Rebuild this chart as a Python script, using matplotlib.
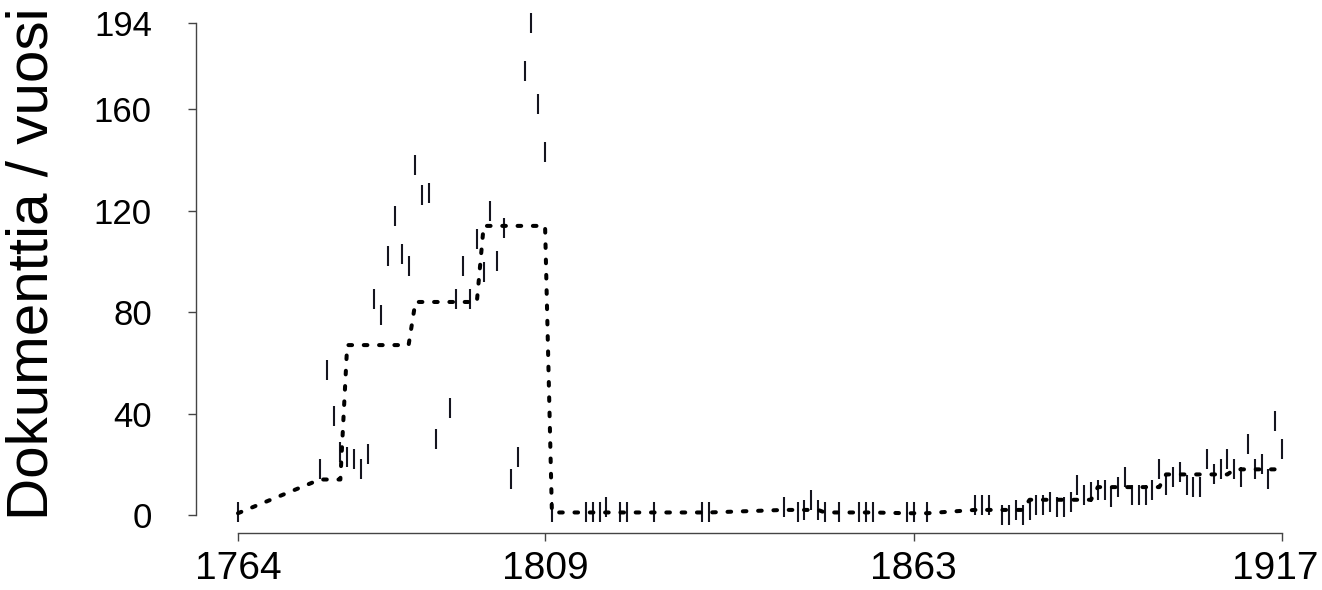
import matplotlib
matplotlib.use("Agg")
import matplotlib.pyplot as plt
import matplotlib.transforms as mtransforms

plt.rcParams['font.family'] = ['Liberation Sans', 'DejaVu Sans']

# documents per year (years without documents are left out)
years = [1764, 1776, 1777, 1778, 1779, 1780, 1781, 1782, 1783, 1784, 1785,
         1786, 1787, 1788, 1789, 1790, 1791, 1792, 1793, 1795, 1796, 1797,
         1798, 1799, 1800, 1801, 1802, 1803, 1804, 1805, 1806, 1807, 1808,
         1809, 1810, 1815, 1816, 1817, 1818, 1820, 1821, 1825, 1832, 1833,
         1844, 1846, 1847, 1848, 1849, 1850, 1852, 1855, 1856, 1857, 1862,
         1863, 1865, 1872, 1873, 1874, 1876, 1877, 1878, 1879, 1880, 1881,
         1882, 1883, 1884, 1885, 1886, 1887, 1888, 1889, 1890, 1891, 1892,
         1893, 1894, 1895, 1896, 1897, 1898, 1899, 1900, 1901, 1902, 1903,
         1904, 1905, 1906, 1907, 1908, 1909, 1910, 1911, 1912, 1913, 1914,
         1915, 1916, 1917]
docs = [1, 18, 57, 39, 25, 23, 22, 18, 24, 85, 79,
        102, 118, 103, 98, 138, 126, 127, 30, 42, 85, 98,
        85, 109, 96, 120, 100, 113, 14, 23, 175, 194, 162,
        143, 1, 1, 1, 1, 3, 1, 1, 1, 1, 1,
        3, 1, 2, 6, 2, 1, 1, 1, 1, 1, 1,
        1, 1, 4, 4, 4, 0, 0, 2, 0, 2, 4,
        4, 5, 3, 3, 5, 12, 8, 9, 10, 10, 7,
        11, 15, 8, 8, 8, 10, 18, 12, 15, 17, 12,
        11, 11, 22, 16, 18, 22, 18, 15, 28, 18, 20,
        14, 37, 26]

# mean per decade (dotted line), decades 1760s ... 1910s
decades = [1760, 1770, 1780, 1790, 1800, 1810, 1820, 1830,
           1840, 1850, 1860, 1870, 1880, 1890, 1900, 1910]
decade_mean = [0.7, 14, 67, 84, 114, 1, 1, 1,
               2, 1, 0.7, 2, 6, 11, 16, 18]

xticks = [1764, 1809, 1863, 1917]
yticks = [0, 40, 80, 120, 160, 194]

mean_of = dict(zip(decades, decade_mean))
trend = [mean_of[y - y % 10] for y in years]

fig = plt.figure(figsize=(13.22, 5.9), dpi=100)
W, H = 1322, 590
ax = fig.add_axes([196 / W, (H - 533) / H, (W - 196) / W, (533 - 3) / H])

ax.plot(years, docs, linestyle='none', marker='|', markersize=14.5,
        markeredgewidth=1.5, color='#15151f')
ax.plot(years, trend, color='black', linewidth=2.9,
        dashes=(0.9, 2.9), dash_capstyle='round')

ax.set_xlim(1764 - 42 / 6.824, 1764 + (W - 238) / 6.824)
ax.set_ylim((515 - 533) / 2.536, (515 - 3) / 2.536)

for s in ['top', 'right']:
    ax.spines[s].set_visible(False)
ax.spines['left'].set_bounds(0, 194)
ax.spines['bottom'].set_bounds(1764, 1917)
for s in ['left', 'bottom']:
    ax.spines[s].set_color('#444444')
    ax.spines[s].set_linewidth(1.0)

ax.set_xticks(xticks)
ax.set_yticks(yticks)
ax.tick_params(axis='both', direction='out', length=5.8, width=1.0,
               color='#444444')
ax.tick_params(axis='x', labelsize=28, pad=7)
ax.tick_params(axis='y', labelsize=25, pad=26)

# keep the last year label inside the picture
last = ax.get_xticklabels()[-1]
last.set_transform(last.get_transform() +
                   mtransforms.ScaledTranslation(-7 / 100, 0, fig.dpi_scale_trans))

fig.text(33 / W, 1 - 264 / H, 'Dokumenttia / vuosi', rotation=90,
         ha='center', va='center', fontsize=42)

fig.savefig('out.png', dpi=100)
